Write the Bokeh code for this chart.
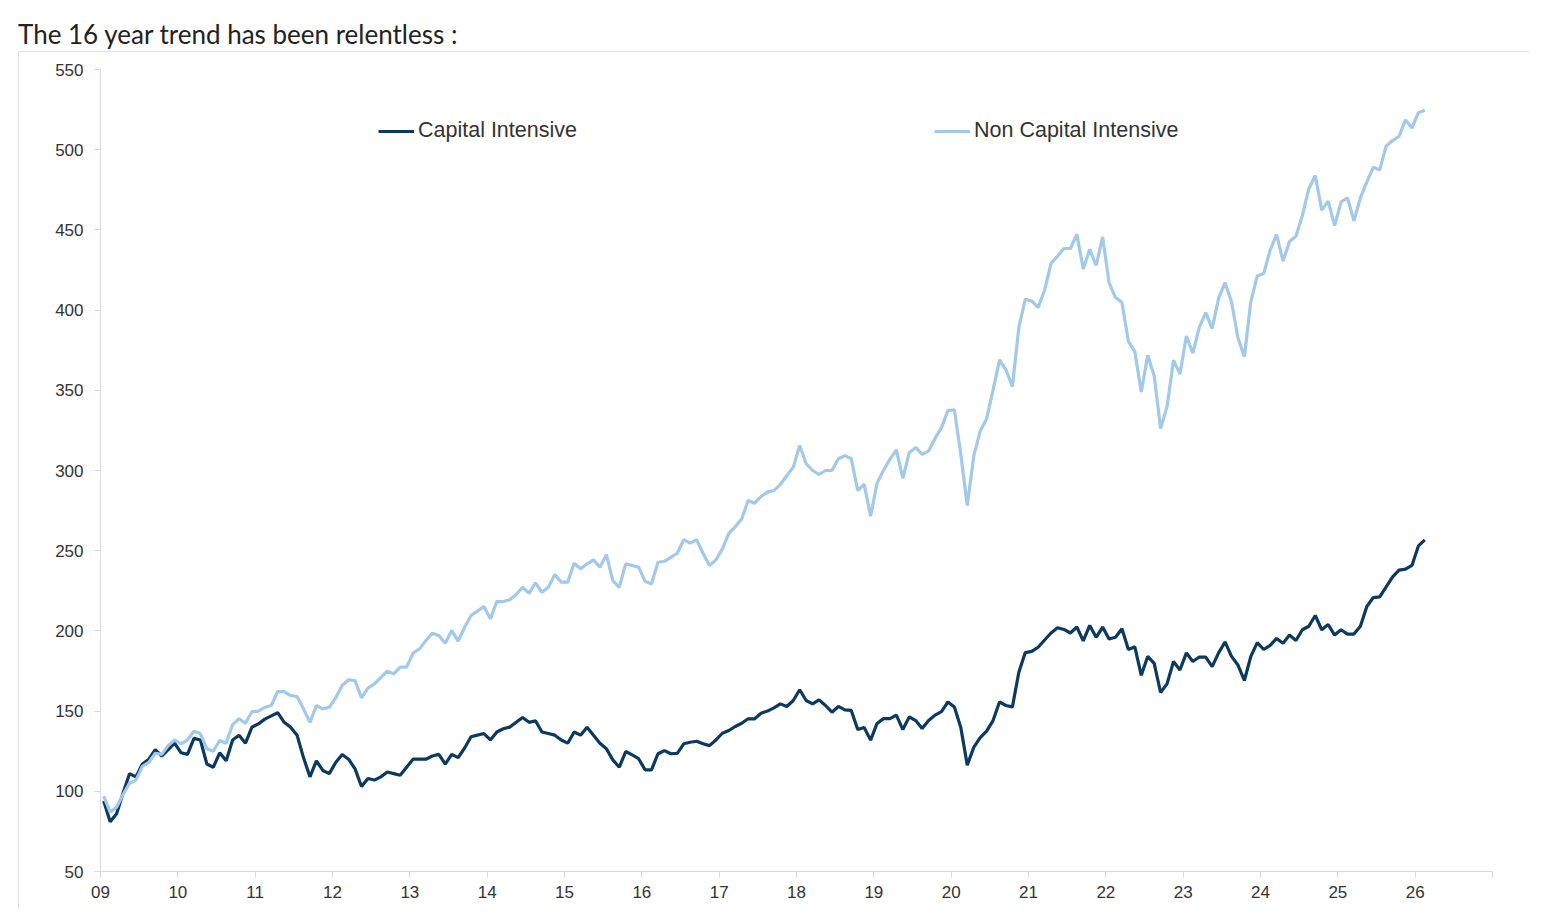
from bokeh.plotting import figure
from bokeh.models import (FixedTicker, Legend, LegendItem, Range1d, Div)
from bokeh.layouts import column
from bokeh.embed import file_html
from bokeh.resources import INLINE

# ---------------- data (monthly, Jan 2009 .. Feb 2026) ----------------
start_year = 2009
capital_intensive = [
    94, 81, 86, 99, 111, 109, 117, 120, 126, 122, 126, 130,
    124, 123, 133, 132, 117, 115, 124, 119, 132, 135, 130, 140,
    142, 145, 147, 149, 143, 140, 135, 121, 109, 119, 113, 111,
    118, 123, 120, 114, 103, 108, 107, 109, 112, 111, 110, 115,
    120, 120, 120, 122, 123, 117, 123, 121, 127, 134, 135, 136,
    132, 137, 139, 140, 143, 146, 143, 144, 137, 136, 135, 132,
    130, 137, 135, 140, 135, 130, 126.5, 119.6, 115, 124.8, 122.7, 120.3,
    113.4, 113.4, 123.4, 125.4, 123.4, 123.7, 129.6, 130.6, 131.2, 129.6, 128.5, 132,
    136.2, 137.9, 140.4, 142.4, 145.2, 145.2, 148.7, 150, 152, 154.5, 152.9, 156.6,
    163.3, 156.6, 154.5, 157, 153.5, 149.3, 152.9, 150.8, 150.4, 138.5, 139.8, 131.9,
    142.3, 145.3, 145.3, 147.5, 138.5, 146.4, 144.1, 139.2, 144.1, 147.5, 149.7, 155.7,
    152.6, 139.7, 116.3, 127.4, 133.5, 137.5, 144.1, 155.7, 153.5, 152.6, 174.2, 186.5,
    187.2, 189.8, 194.3, 198.7, 202, 200.9, 198.7, 202.4, 193.8, 203.4, 196, 202.4,
    194.9, 196, 201.3, 188.4, 190.1, 172.3, 184.1, 179.8, 161.6, 167, 180.9, 175.6,
    186.3, 180.9, 183.7, 183.7, 177.7, 186.3, 193.1, 184.1, 178.7, 169.1, 184.1, 192.7,
    188.4, 191, 195.3, 192.3, 197.4, 194, 200.7, 202.9, 209.6, 200.7, 204, 197.4,
    200.7, 198, 198, 202.9, 215.2, 220.8, 221.2, 227.4, 233.7, 237.9, 238.5, 240.8,
    253, 256.8,
]
non_capital_intensive = [
    97, 87, 90, 98, 105, 107, 115.5, 118, 123.7, 123, 128.5, 132,
    129.6, 132, 137.5, 136, 126.5, 125, 131.7, 130, 141.6, 145.2, 142.4, 149.7,
    150, 152.4, 153.5, 162.2, 162.2, 159.7, 159.1, 151.4, 143, 153.5, 151.4, 152.4,
    158.3, 166, 169.5, 169, 158.3, 164.3, 167, 171.1, 174.9, 173.2, 177.4, 177.4,
    186.1, 188.8, 194, 198.6, 197.1, 192.3, 200.2, 193.6, 202.3, 209.6, 212.3, 215.2,
    207.5, 218.3, 218.3, 219.4, 222.7, 227.2, 223.5, 230, 224.1, 227.2, 235.2, 230.4,
    230.4, 242.2, 238.7, 241.8, 244.3, 239.7, 247.5, 231.4, 227.2, 241.8, 240.8, 239.7,
    231, 229.3, 242.8, 243.4, 245.9, 248.4, 256.8, 254.7, 256.8, 248.4, 240.8, 244.3,
    251.1, 260.8, 265, 269.8, 281.3, 279.6, 283.8, 286.5, 287.5, 291.3, 296.9, 302.1,
    315.6, 304.2, 300, 297.5, 300, 300, 307.3, 309.3, 307.3, 287.5, 291.5, 271.5,
    292.2, 300, 307.1, 312.9, 295.1, 311.1, 314.4, 310, 312.2, 320, 326.7, 337.4,
    337.8, 310, 278.2, 308.9, 324.5, 332.3, 350.1, 369, 362.8, 352.3, 389.1, 406.8,
    405.7, 401.7, 412.4, 429.1, 433.6, 438.4, 438.4, 447.2, 425.6, 437.9, 427.8, 445.6,
    417.1, 407.8, 404.8, 380.5, 374.1, 349, 371.9, 359.1, 326.2, 339.8, 368.8, 360.1,
    383.8, 373.1, 389.2, 398.4, 388.5, 407.4, 417.1, 405.2, 382.7, 370.9, 405.2, 421.3,
    422.8, 437.4, 447.1, 430.5, 442.8, 446, 459, 475.7, 483.9, 462.3, 467.9, 452.7,
    467.4, 470, 455.6, 470, 480, 489, 487.4, 502.3, 505.7, 508.4, 518.6, 513.5,
    523.1, 524.6,
]
year_ticks = list(range(2009, 2028))
year_labels = {y: str(y)[2:] for y in year_ticks}
year_labels[2027] = ""
y_ticks = list(range(50, 551, 50))
series_names = ["Capital Intensive", "Non Capital Intensive"]
title_text = "The 16 year trend has been relentless :"

# decimal-year position of each monthly observation (mid-month)
months = [start_year + (i + 0.5) / 12 for i in range(len(capital_intensive))]

DARK = "#0c3a5f"
LIGHT = "#a2c8ea"
AXIS_GREY = "#d9d9d9"
TEXT = "#333333"

p = figure(width=1511, height=858, output_backend="svg", toolbar_location=None,
           x_range=Range1d(2009, 2027), y_range=Range1d(50, 550),
           min_border_left=81, min_border_right=38, min_border_top=17,
           min_border_bottom=39, margin=(0, 0, 0, 18),
           styles={"border-left": "1px solid #e3e3e3", "border-top": "1px solid #e3e3e3"})
p.outline_line_color = None
p.grid.visible = False
p.background_fill_color = "white"
p.border_fill_color = "white"

r1 = p.line(months, capital_intensive, line_color=DARK, line_width=3.2)
r2 = p.line(months, non_capital_intensive, line_color=LIGHT, line_width=3.2)

# x axis
xa = p.xaxis[0]
xa.ticker = FixedTicker(ticks=year_ticks)
xa.major_label_overrides = year_labels
xa.minor_tick_line_color = None
xa.axis_line_color = AXIS_GREY
xa.major_tick_line_color = AXIS_GREY
xa.major_tick_in = 0
xa.major_tick_out = 6
xa.major_label_standoff = 8
xa.major_label_text_font = "Liberation Sans"
xa.major_label_text_font_size = "17px"
xa.major_label_text_color = TEXT

# y axis
ya = p.yaxis[0]
ya.ticker = FixedTicker(ticks=y_ticks)
ya.minor_tick_line_color = None
ya.axis_line_color = AXIS_GREY
ya.major_tick_line_color = AXIS_GREY
ya.major_tick_in = 0
ya.major_tick_out = 6
ya.major_label_standoff = 11
ya.major_label_text_font = "Liberation Sans"
ya.major_label_text_font_size = "17px"
ya.major_label_text_color = TEXT

# legends, two separate entries placed like the original
for rend, name, loc in [(r1, series_names[0], (278, 728)), (r2, series_names[1], (834, 728))]:
    lg = Legend(items=[LegendItem(label=name, renderers=[rend])], location=loc,
                orientation="horizontal", padding=0, margin=0, spacing=0,
                glyph_width=36, glyph_height=20, label_height=20, label_standoff=4,
                label_text_font="Liberation Sans", label_text_font_size="21.5px",
                label_text_color=TEXT, border_line_color=None,
                background_fill_alpha=0)
    p.add_layout(lg, "center")

title = Div(text=('<div style="font-family: Lato; font-size: 26px; line-height: 30px; '
                  'color:#222; padding-top: 14px; padding-left: 13px; white-space: nowrap;">'
                  + title_text + '</div>'),
            width=1529, height=41)

layout = column(title, p, spacing=0)
open("out.html", "w").write(file_html(layout, INLINE))
